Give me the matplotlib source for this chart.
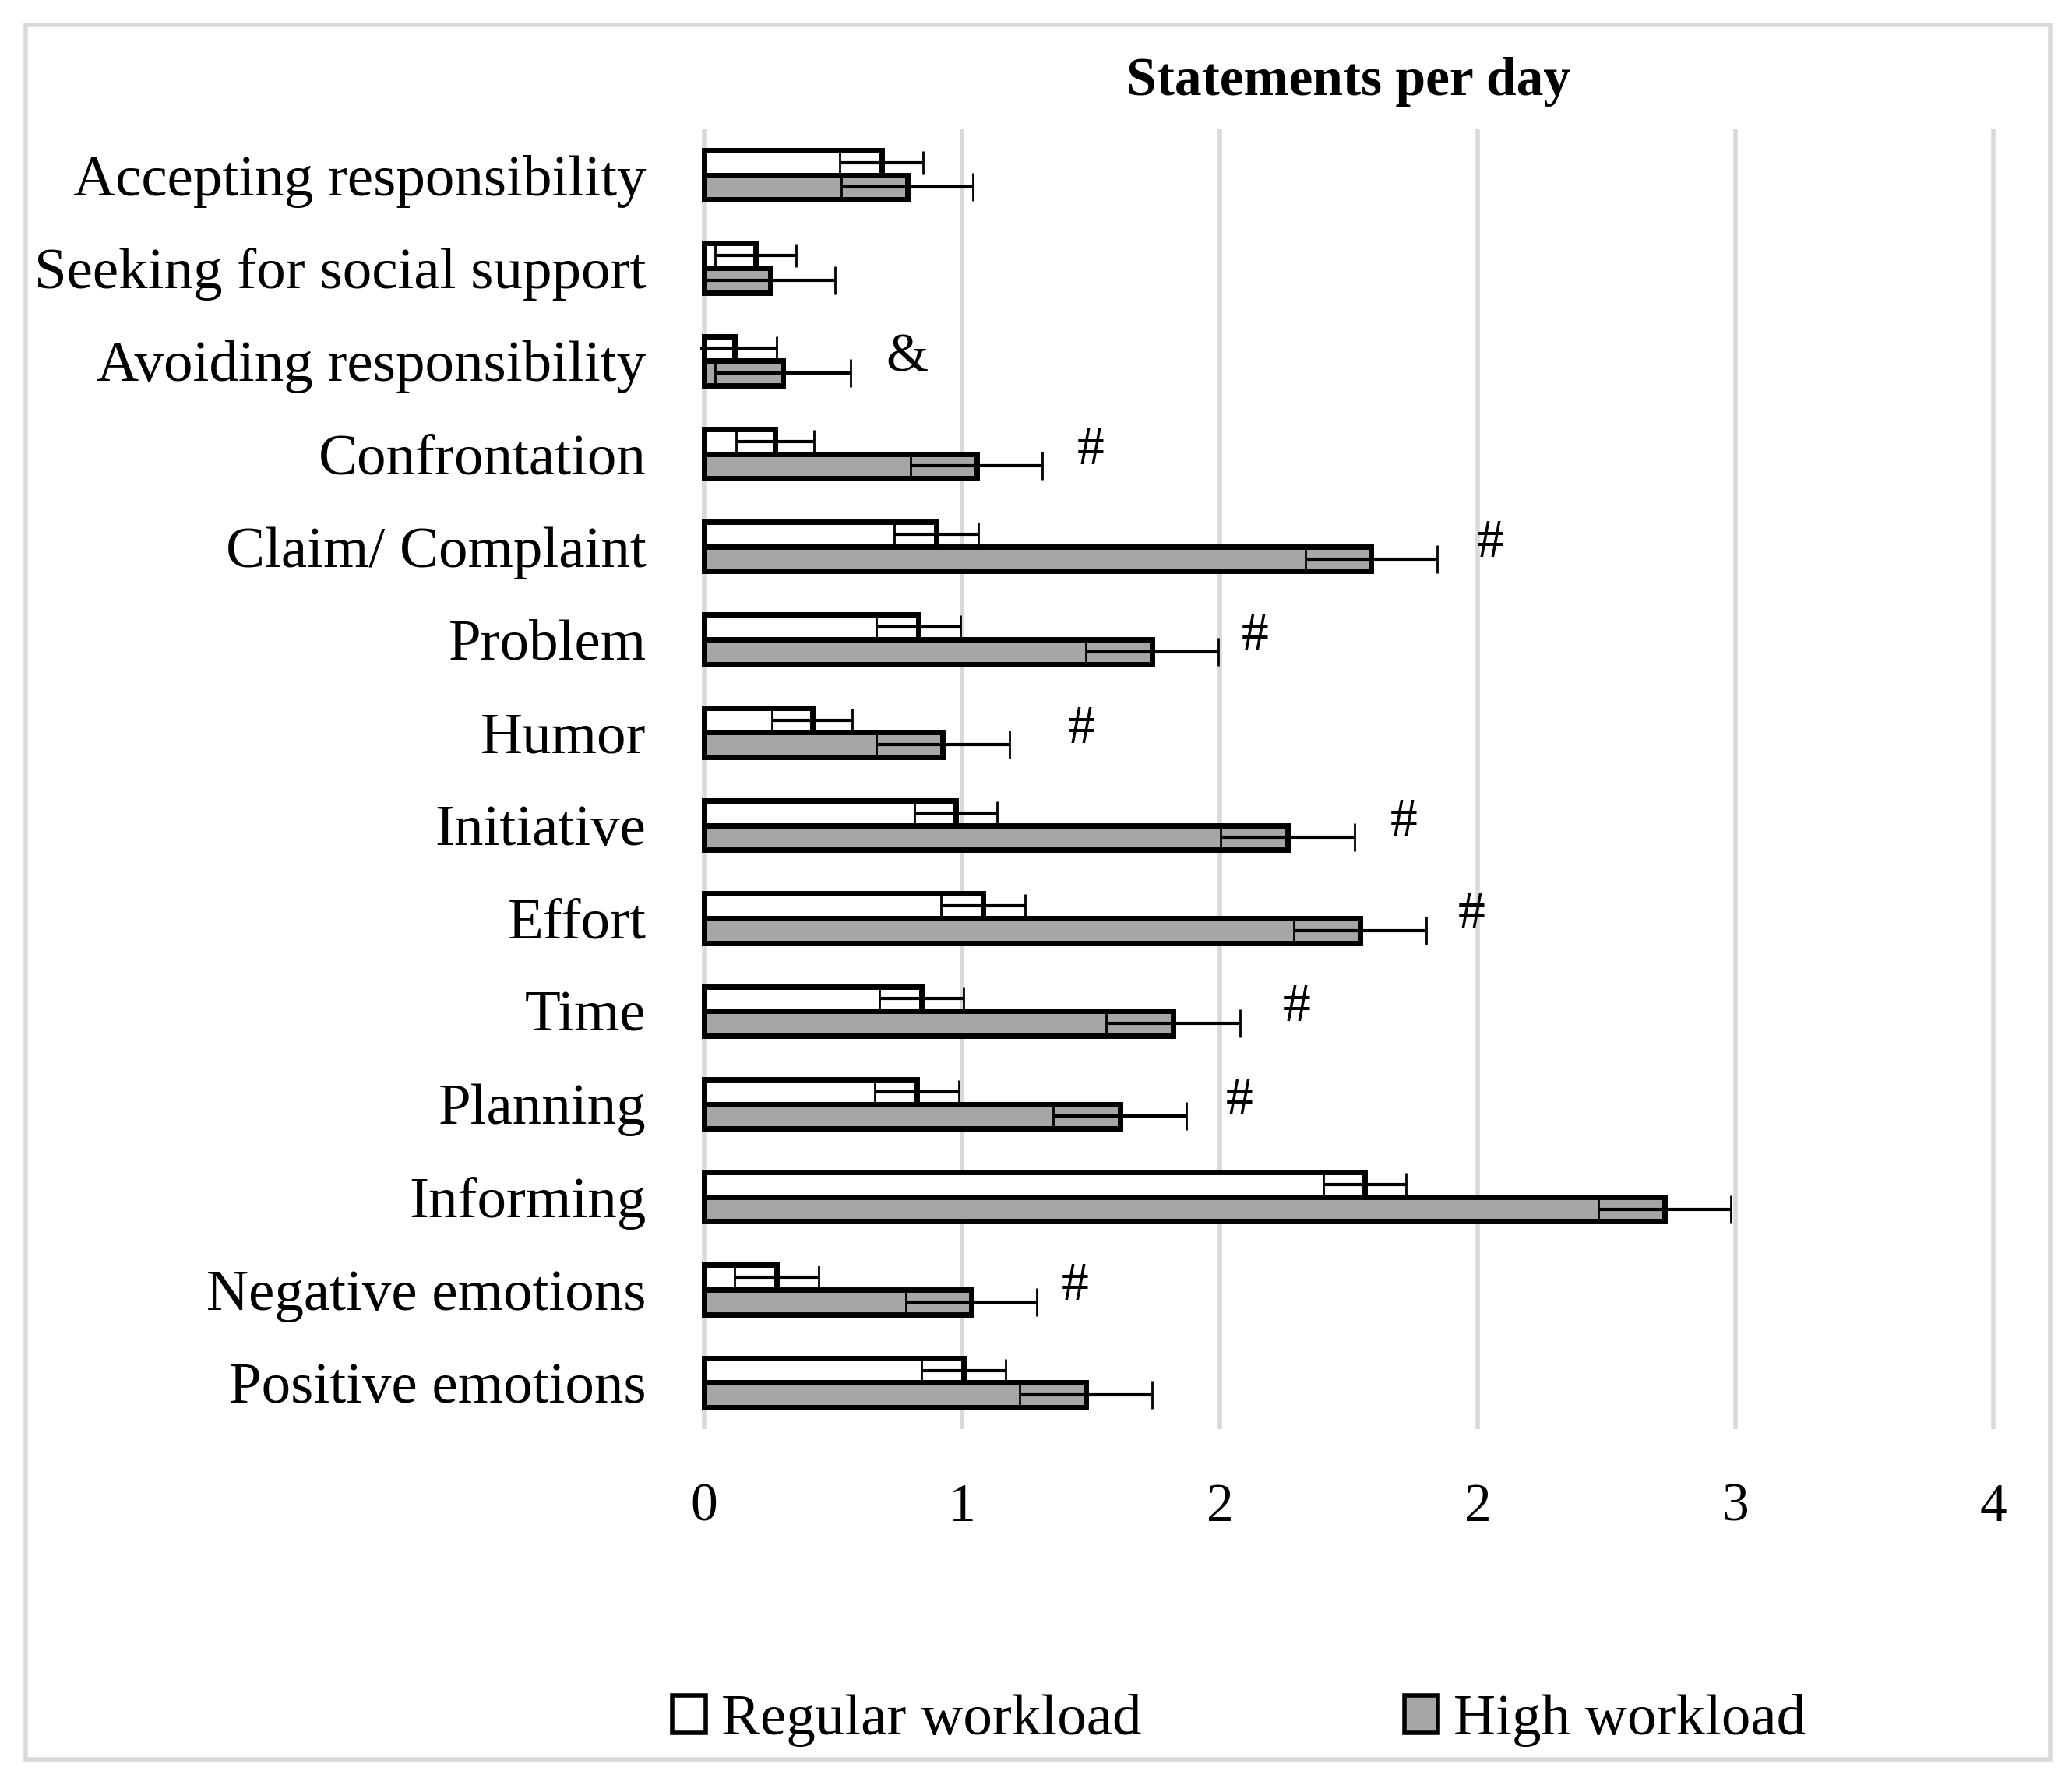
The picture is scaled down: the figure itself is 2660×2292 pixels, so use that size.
import matplotlib
matplotlib.use("Agg")
import matplotlib.pyplot as plt
from matplotlib.patches import Rectangle
from matplotlib.ticker import FormatStrFormatter
import numpy as np

plt.rcParams['font.family'] = ['Liberation Serif', 'DejaVu Serif']

# data (statements per day)
categories = ['Accepting responsibility', 'Seeking for social support', 'Avoiding responsibility',
              'Confrontation', 'Claim/ Complaint', 'Problem', 'Humor', 'Initiative', 'Effort',
              'Time', 'Planning', 'Informing', 'Negative emotions', 'Positive emotions']
regular = [0.55, 0.16, 0.095, 0.22, 0.72, 0.665, 0.335, 0.78, 0.865, 0.675, 0.66, 2.05, 0.225, 0.805]
regular_err = [0.13, 0.125, 0.13, 0.12, 0.13, 0.13, 0.125, 0.128, 0.13, 0.13, 0.13, 0.128, 0.13, 0.13]
high = [0.63, 0.205, 0.245, 0.845, 2.07, 1.39, 0.74, 1.81, 2.035, 1.455, 1.29, 2.98, 0.83, 1.185]
high_err = [0.205, 0.2, 0.21, 0.205, 0.205, 0.205, 0.207, 0.207, 0.206, 0.207, 0.207, 0.206, 0.203, 0.205]
# significance marks and where they sit on the x axis
sig_marks = ['', '', '&', '#', '#', '#', '#', '#', '#', '#', '#', '', '#', '']
sig_x = [None, None, 0.63, 1.2, 2.44, 1.71, 1.17, 2.17, 2.38, 1.84, 1.66, None, 1.15, None]
xticks = [0, 0.8, 1.6, 2.4, 3.2, 4.0]

gray = '#a6a6a6'
grid_gray = '#d9d9d9'

fig = plt.figure(figsize=(26.6, 22.92), dpi=100)
ax = fig.add_axes([899 / 2660, 1 - 1835 / 2292, (2564 - 899) / 2660, (1835 - 165) / 2292])

y = np.arange(len(categories))
h = 0.265
ax.barh(y - h / 2, regular, height=h, color='white', edgecolor='black', linewidth=5, zorder=3)
ax.barh(y + h / 2, high, height=h, color=gray, edgecolor='black', linewidth=5, zorder=3)
ax.errorbar(regular, y - h / 2, xerr=regular_err, fmt='none', ecolor='black',
            elinewidth=3, capsize=11, capthick=2, zorder=4)
ax.errorbar(high, y + h / 2, xerr=high_err, fmt='none', ecolor='black',
            elinewidth=3, capsize=13, capthick=2, zorder=4)

for i, (m, sx) in enumerate(zip(sig_marks, sig_x)):
    if m:
        ax.text(sx, i - 0.03, m, fontsize=50, ha='center', va='center', zorder=5)

ax.set_xlim(-0.012, 4.012)
ax.set_ylim(len(categories) - 0.5, -0.5)
ax.set_xticks(xticks)
ax.xaxis.set_major_formatter(FormatStrFormatter('%.0f'))
ax.set_yticks(y)
ax.set_yticklabels(categories)
ax.tick_params(axis='y', length=0, pad=50, labelsize=54)
ax.tick_params(axis='x', length=0, pad=50, labelsize=50)
ax.grid(axis='x', color=grid_gray, linewidth=4, zorder=0)
ax.set_axisbelow(True)
for s in ax.spines.values():
    s.set_visible(False)

fig.text(1731 / 2660, 1 - 105 / 2292, 'Statements per day', fontsize=50, fontweight='bold',
         ha='center', va='center')

handles = [Rectangle((0, 0), 1, 1, facecolor='white', edgecolor='black', linewidth=4),
           Rectangle((0, 0), 1, 1, facecolor=gray, edgecolor='black', linewidth=4)]
fig.legend(handles, ['Regular workload', 'High workload'], loc='center',
           bbox_to_anchor=(0.598, 0.036), ncol=2, frameon=False, fontsize=54,
           handlelength=0.57, handleheight=0.61, handletextpad=0.27, columnspacing=4.5)

# outer frame
fig.patches.append(Rectangle((33 / 2660, 33 / 2292), (2632 - 33) / 2660, (2260 - 33) / 2292,
                             transform=fig.transFigure, fill=False, edgecolor=grid_gray, linewidth=4))

fig.savefig('out.png', dpi=100, facecolor='white')
